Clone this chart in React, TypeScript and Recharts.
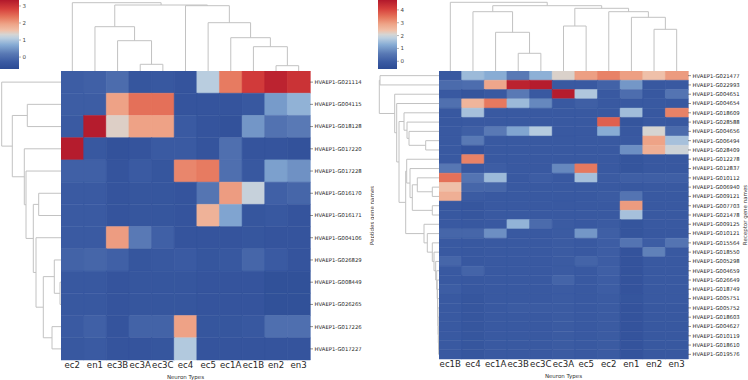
import React from 'react';
import { BarChart, Bar, Cell, XAxis, YAxis, LineChart, Line } from 'recharts';

// ---- peptides (left) ----
const pepCols = ['ec2', 'en1', 'ec3B', 'ec3A', 'ec3C', 'ec4', 'ec5', 'ec1A', 'ec1B', 'en2', 'en3'];
const pepRows = [
  'HVAEP1-G021114', 'HVAEP1-G004115', 'HVAEP1-G018128', 'HVAEP1-G017220', 'HVAEP1-G017228',
  'HVAEP1-G016170', 'HVAEP1-G016171', 'HVAEP1-G004106', 'HVAEP1-G026829', 'HVAEP1-G008449',
  'HVAEP1-G026265', 'HVAEP1-G017226', 'HVAEP1-G017227',
];
const pepValues = [
  [-0.25, -0.2, 0.0, -0.4, -0.35, -0.45, 1.1, 2.3, 2.9, 3.2, 3.0],
  [-0.25, -0.25, 1.95, 2.4, 2.4, -0.45, -0.45, -0.45, -0.35, 0.55, 0.8],
  [-0.3, 3.3, 1.4, 1.95, 1.95, -0.3, -0.45, -0.5, 0.5, 0.1, 0.2],
  [3.3, -0.35, -0.5, -0.45, -0.3, -0.3, -0.45, 0.05, -0.45, -0.45, -0.5],
  [-0.2, -0.2, -0.45, -0.3, -0.4, 2.2, 2.3, 0.05, -0.35, 0.6, 0.45],
  [-0.3, -0.3, -0.45, -0.4, -0.4, -0.45, 0.15, 2.0, 1.2, -0.2, -0.1],
  [-0.3, -0.3, -0.45, -0.4, -0.4, -0.45, 1.75, 0.65, -0.4, -0.35, -0.45],
  [-0.3, -0.3, 2.0, 0.2, -0.2, -0.45, -0.45, -0.45, -0.4, -0.45, -0.45],
  [-0.15, -0.1, -0.2, -0.4, -0.35, -0.3, -0.4, -0.35, -0.1, -0.3, -0.45],
  [-0.35, -0.35, -0.45, -0.4, -0.4, -0.4, -0.45, -0.45, -0.45, -0.55, -0.55],
  [-0.35, -0.35, -0.45, -0.4, -0.4, -0.4, -0.45, -0.45, -0.45, -0.55, -0.55],
  [-0.3, -0.2, -0.45, -0.15, -0.15, 1.95, -0.4, -0.4, -0.35, 0.05, 0.05],
  [-0.35, -0.3, -0.45, -0.45, -0.4, 1.05, -0.45, -0.45, -0.45, -0.45, -0.45],
];
const pepRange = [-0.7, 3.35];
const pepTicks = [0, 1, 2, 3];
// linkage: [childA, childB, height]
const pepColLinks = [
  [3, 4, 6.7], [2, 11, 30.3], [1, 12, 44.3], [9, 10, 5.3], [8, 14, 24.3],
  [7, 15, 33.3], [6, 16, 48.3], [5, 17, 65.3], [13, 18, 66], [0, 19, 68.3],
];
const pepRowLinks = [
  [9, 10, 1], [8, 13, 6.7], [11, 12, 9], [14, 15, 17.7], [7, 16, 25], [5, 6, 22.3],
  [18, 17, 27.7], [4, 19, 35], [3, 20, 36.7], [1, 2, 33.7], [22, 21, 48.7], [0, 23, 59.3],
];

// ---- receptors (right) ----
const recCols = ['ec1B', 'ec4', 'ec1A', 'ec3B', 'ec3C', 'ec3A', 'ec5', 'ec2', 'en1', 'en2', 'en3'];
const recRows = [
  'HVAEP1-G021477', 'HVAEP1-G022993', 'HVAEP1-G004651', 'HVAEP1-G004654', 'HVAEP1-G018609',
  'HVAEP1-G028588', 'HVAEP1-G004656', 'HVAEP1-G006494', 'HVAEP1-G028409', 'HVAEP1-G012278',
  'HVAEP1-G012837', 'HVAEP1-G010112', 'HVAEP1-G006940', 'HVAEP1-G009121', 'HVAEP1-G007703',
  'HVAEP1-G021478', 'HVAEP1-G009125', 'HVAEP1-G010121', 'HVAEP1-G015564', 'HVAEP1-G018550',
  'HVAEP1-G005298', 'HVAEP1-G004659', 'HVAEP1-G026649', 'HVAEP1-G018749', 'HVAEP1-G005751',
  'HVAEP1-G005752', 'HVAEP1-G018603', 'HVAEP1-G004627', 'HVAEP1-G010119', 'HVAEP1-G018610',
  'HVAEP1-G019576',
];
const recValues = [
  [-0.15, 1.5, 1.3, 0.6, 1.35, 2.15, 2.95, 3.3, 2.95, 2.4, 3.0],
  [0.3, 0.35, 2.85, 4.6, 4.7, -0.1, -0.1, 0.1, 1.0, -0.15, -0.1],
  [-0.1, -0.25, -0.1, 0.6, -0.1, 4.7, 1.7, -0.1, 0.35, -0.15, 0.5],
  [0.4, 2.6, 3.4, 1.5, 0.8, -0.1, 0.05, -0.1, -0.1, -0.1, -0.15],
  [-0.15, 1.6, -0.1, -0.1, -0.1, -0.1, -0.1, -0.1, 1.55, -0.15, 3.3],
  [-0.15, -0.1, -0.1, -0.1, -0.1, -0.1, -0.1, 3.7, -0.25, -0.1, -0.15],
  [-0.1, 0.05, 0.6, 1.2, 1.75, -0.1, -0.1, 1.3, -0.15, 2.1, 0.3],
  [-0.1, 0.6, -0.1, -0.1, -0.1, -0.1, -0.1, -0.1, -0.1, 2.9, 1.6],
  [-0.1, -0.3, -0.1, -0.1, -0.1, -0.1, -0.1, -0.1, 0.9, 2.7, 2.0],
  [-0.1, 3.3, -0.1, -0.1, -0.1, -0.1, -0.1, -0.1, -0.25, -0.15, -0.15],
  [0.55, -0.1, 0.0, -0.1, -0.1, 0.8, 3.4, -0.1, -0.25, -0.15, -0.15],
  [3.5, 0.5, 1.5, -0.1, 0.0, -0.1, 1.6, -0.05, 0.05, 0.05, 0.05],
  [2.4, 0.2, 0.2, -0.1, -0.1, -0.1, -0.1, -0.1, -0.15, -0.1, -0.1],
  [2.7, -0.05, -0.1, -0.1, -0.1, -0.1, -0.1, -0.05, 0.5, -0.1, -0.1],
  [-0.15, -0.2, -0.1, -0.1, -0.1, -0.1, -0.1, -0.1, 3.0, -0.1, -0.1],
  [-0.15, -0.2, -0.1, -0.1, -0.1, -0.1, -0.1, -0.1, 1.6, -0.1, -0.1],
  [-0.1, -0.15, -0.1, 1.4, 0.3, -0.05, -0.1, -0.05, -0.25, -0.1, -0.1],
  [0.2, 0.2, 0.9, -0.1, -0.1, -0.05, 1.0, 0.05, -0.25, -0.15, -0.15],
  [-0.1, -0.15, -0.1, -0.1, -0.1, -0.05, -0.1, 0.0, 0.5, 0.0, 0.5],
  [-0.1, -0.15, -0.1, -0.1, -0.1, -0.05, -0.1, 0.0, -0.3, 0.7, -0.1],
  [0.2, -0.15, -0.1, -0.1, -0.1, -0.05, 0.15, 0.0, -0.3, -0.1, -0.1],
  [-0.1, 0.15, -0.1, -0.1, -0.1, -0.05, -0.1, 0.05, -0.3, -0.1, -0.1],
  [-0.1, -0.15, -0.1, -0.1, -0.1, 0.15, -0.1, 0.0, -0.3, -0.1, -0.1],
  [0.0, -0.15, -0.1, -0.1, -0.1, -0.05, -0.1, 0.0, -0.3, -0.1, -0.1],
  [-0.1, -0.2, -0.1, -0.1, -0.1, -0.05, -0.1, -0.05, -0.25, -0.1, -0.1],
  [-0.1, -0.2, -0.1, -0.05, -0.05, -0.05, -0.1, -0.05, -0.3, -0.15, -0.15],
  [-0.1, -0.2, -0.1, -0.1, -0.1, -0.05, -0.1, -0.05, -0.3, -0.15, -0.15],
  [-0.1, -0.2, -0.1, -0.1, -0.1, -0.05, -0.1, -0.05, -0.3, -0.15, -0.15],
  [-0.1, -0.2, -0.1, -0.1, -0.1, -0.05, -0.1, -0.05, -0.3, -0.15, -0.15],
  [-0.1, -0.2, -0.1, -0.1, -0.1, -0.05, -0.1, -0.05, -0.3, -0.15, -0.15],
  [-0.1, -0.2, -0.1, -0.1, -0.1, -0.05, -0.1, -0.05, -0.3, -0.15, -0.15],
];
const recRange = [-0.6, 4.77];
const recTicks = [0, 1, 2, 3, 4];
const recColLinks = [
  [3, 4, 17.7], [2, 11, 38.7], [1, 12, 59.3], [9, 10, 41.7], [8, 14, 53.7],
  [7, 15, 59.3], [5, 6, 45], [17, 16, 62.7], [13, 18, 65.3], [0, 19, 68.7],
];
const recRowLinks = [
  [0, 1, 59], [7, 8, 13.3], [6, 32, 30], [5, 33, 32], [4, 34, 35],
  [12, 13, 6.7], [11, 36, 21.7], [14, 15, 6.7], [37, 38, 26.7], [10, 39, 29],
  [9, 40, 32.3], [29, 30, 0.3], [28, 42, 0.5], [27, 43, 0.7], [26, 44, 0.9],
  [25, 45, 1.1], [24, 46, 1.3], [23, 47, 1.5], [22, 48, 1.8], [21, 49, 2.3],
  [20, 50, 3.3], [19, 51, 5], [18, 52, 6.7], [17, 53, 11.7], [16, 54, 15],
  [41, 55, 33.3], [35, 56, 40], [3, 57, 42.3], [2, 58, 44.3], [31, 59, 59.7],
];

const FONT = 'DejaVu Sans';
const LINK_COLOR = '#c2c2c2';

// diverging colour map, blue -> grey -> red
const CMAP: [number, string][] = [
  [0.0, '#2c4b94'],
  [0.1, '#3a5aa2'],
  [0.22, '#5878b4'],
  [0.35, '#86abd4'],
  [0.45, '#bccfe0'],
  [0.5, '#d5d5d3'],
  [0.56, '#f0c0a8'],
  [0.65, '#eea488'],
  [0.75, '#e6775d'],
  [0.87, '#d6403c'],
  [1.0, '#b2182b'],
];

function hexToRgb(h: string) {
  return [1, 3, 5].map((i) => parseInt(h.slice(i, i + 2), 16));
}

function cmap(t: number) {
  const tt = Math.max(0, Math.min(1, t));
  for (let i = 1; i < CMAP.length; i++) {
    if (tt <= CMAP[i][0]) {
      const [t0, c0] = CMAP[i - 1];
      const [t1, c1] = CMAP[i];
      const f = (tt - t0) / (t1 - t0);
      const a = hexToRgb(c0);
      const b = hexToRgb(c1);
      const rgb = a.map((v, k) => Math.round(v + (b[k] - v) * f));
      return `rgb(${rgb.join(',')})`;
    }
  }
  return CMAP[CMAP.length - 1][1];
}

const colorOf = (v: number, range: number[]) => cmap((v - range[0]) / (range[1] - range[0]));

// rotated axis title, placed dx px right of the plot edge
const sideTitle = (text: string, dx: number) => (props: any) => {
  const vb = props.viewBox || {};
  const x = vb.x + dx;
  const y = vb.y + vb.height / 2;
  return (
    <text
      x={x}
      y={y}
      transform={`rotate(-90, ${x}, ${y})`}
      textAnchor="middle"
      dominantBaseline="central"
      fontSize={5.5}
      fill="#333"
      fontFamily={FONT}
    >
      {text}
    </text>
  );
};

function Heatmap({ cols, rows, values, range, left, top, width, height, axisW, rowFont, yTitle, titleDx }: any) {
  const data = cols.map((c: string) => {
    const d: any = { name: c };
    rows.forEach((_: string, i: number) => (d['r' + i] = 1));
    return d;
  });
  return (
    <div style={{ position: 'absolute', left, top }}>
      <BarChart
        width={width + axisW}
        height={height + 20}
        data={data}
        margin={{ top: 0, right: 0, bottom: 0, left: 0 }}
        barCategoryGap={0}
        barGap={0}
      >
        <XAxis
          dataKey="name"
          interval={0}
          tickLine={false}
          axisLine={false}
          tickSize={0}
          tickMargin={2}
          height={20}
          tick={{ fontSize: 8.6, fill: '#262626', fontFamily: FONT }}
          label={{ value: 'Neuron Types', position: 'insideBottom', offset: 1, fontSize: 5.5, fill: '#333', fontFamily: FONT }}
        />
        <YAxis
          orientation="right"
          type="number"
          domain={[0, rows.length]}
          reversed
          ticks={rows.map((_: string, i: number) => i + 0.5)}
          tickFormatter={(v: number) => rows[Math.floor(v)]}
          interval={0}
          width={axisW}
          axisLine={false}
          tickSize={3}
          tickMargin={1.5}
          tickLine={{ stroke: '#444', strokeWidth: 0.6 }}
          tick={{ fontSize: rowFont, fill: '#262626', fontFamily: FONT }}
          label={{ value: yTitle, content: sideTitle(yTitle, titleDx) }}
        />
        {rows.map((r: string, i: number) => (
          <Bar key={r} dataKey={'r' + i} stackId="h" isAnimationActive={false}>
            {cols.map((c: string, j: number) => {
              const col = colorOf(values[i][j], range);
              return <Cell key={c} fill={col} stroke={col} strokeWidth={0.5} />;
            })}
          </Bar>
        ))}
      </BarChart>
    </div>
  );
}

function ColorBar({ range, ticks, left, top, id }: any) {
  return (
    <div style={{ position: 'absolute', left, top }}>
      <BarChart
        width={19 + 14}
        height={69}
        data={[{ name: 'c', v: range }]}
        margin={{ top: 0, right: 0, bottom: 0, left: 0 }}
        barCategoryGap={0}
      >
        <defs>
          <linearGradient id={id} x1="0" y1="1" x2="0" y2="0">
            {CMAP.map(([t, c]) => (
              <stop key={t} offset={t} stopColor={c} />
            ))}
          </linearGradient>
        </defs>
        <XAxis dataKey="name" hide />
        <YAxis
          orientation="right"
          type="number"
          domain={range}
          ticks={ticks}
          width={14}
          axisLine={false}
          tickSize={2}
          tickMargin={1.5}
          tickLine={{ stroke: '#666', strokeWidth: 0.5 }}
          tick={{ fontSize: 5.5, fill: '#444', fontFamily: FONT }}
        />
        <Bar dataKey="v" fill={`url(#${id})`} isAnimationActive={false} />
      </BarChart>
    </div>
  );
}

function Dendrogram({ n, links, side, left, top, width, height, hMax }: any) {
  const pos: number[] = [];
  const hgt: number[] = [];
  for (let i = 0; i < n; i++) {
    pos[i] = i + 0.5;
    hgt[i] = 0;
  }
  links.forEach(([a, b, h]: number[], k: number) => {
    pos[n + k] = (pos[a] + pos[b]) / 2;
    hgt[n + k] = h;
  });
  const paths = links.map(([a, b, h]: number[]) =>
    side
      ? [
          { x: hgt[a], y: pos[a] },
          { x: h, y: pos[a] },
          { x: h, y: pos[b] },
          { x: hgt[b], y: pos[b] },
        ]
      : [
          { x: pos[a], y: hgt[a] },
          { x: pos[a], y: h },
          { x: pos[b], y: h },
          { x: pos[b], y: hgt[b] },
        ]
  );
  return (
    <div style={{ position: 'absolute', left, top }}>
      <LineChart width={width} height={height} margin={{ top: 0, right: 0, bottom: 0, left: 0 }}>
        <XAxis type="number" dataKey="x" domain={side ? [0, hMax] : [0, n]} reversed={side} hide />
        <YAxis type="number" domain={side ? [0, n] : [0, hMax]} reversed={side} hide />
        {paths.map((d: any, i: number) => (
          <Line
            key={i}
            data={d}
            dataKey="y"
            type="linear"
            stroke={LINK_COLOR}
            strokeWidth={1}
            dot={false}
            activeDot={false}
            isAnimationActive={false}
          />
        ))}
      </LineChart>
    </div>
  );
}

export default function App() {
  return (
    <div
      style={{
        position: 'absolute',
        left: 0,
        top: 0,
        width: 748,
        height: 380,
        overflow: 'hidden',
        background: '#fff',
        fontFamily: FONT,
      }}
    >
      <Dendrogram n={11} links={pepColLinks} side={false} left={61} top={0} width={249} height={71} hMax={71} />
      <Dendrogram n={13} links={pepRowLinks} side left={0} top={71} width={61} height={289} hMax={61} />
      <Heatmap
        cols={pepCols}
        rows={pepRows}
        values={pepValues}
        range={pepRange}
        left={61}
        top={71}
        width={249}
        height={289}
        axisW={64}
        rowFont={5.3}
        yTitle="Peptides gene names"
        titleDx={61.7}
      />
      <ColorBar range={pepRange} ticks={pepTicks} left={0} top={0} id="cbPep" />

      <Dendrogram n={11} links={recColLinks} side={false} left={439} top={0} width={249} height={71} hMax={71} />
      <Dendrogram n={31} links={recRowLinks} side left={378} top={71} width={61} height={288} hMax={61} />
      <Heatmap
        cols={recCols}
        rows={recRows}
        values={recValues}
        range={recRange}
        left={439}
        top={71}
        width={249}
        height={288}
        axisW={60}
        rowFont={5.3}
        yTitle="Receptor gene names"
        titleDx={57}
      />
      <ColorBar range={recRange} ticks={recTicks} left={378} top={0} id="cbRec" />
    </div>
  );
}
